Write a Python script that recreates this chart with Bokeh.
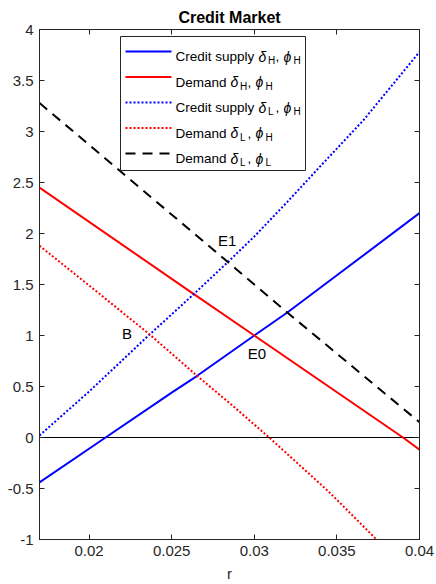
from bokeh.plotting import figure
from bokeh.models import Range1d, FixedTicker, LinearAxis
from bokeh.core.properties import value
from bokeh.embed import file_html
from bokeh.resources import INLINE

# ---------------- data ----------------
x_lim = [0.017, 0.04]
y_lim = [-1, 4]
x_ticks = [0.02, 0.025, 0.03, 0.035, 0.04]
x_tick_labels = ["0.02", "0.025", "0.03", "0.035", "0.04"]
y_ticks = [-1, -0.5, 0, 0.5, 1, 1.5, 2, 2.5, 3, 3.5, 4]
y_tick_labels = ["-1", "-0.5", "0", "0.5", "1", "1.5", "2", "2.5", "3", "3.5", "4"]

# Credit supply delta_H, phi_H (blue solid)
r_supply_HH = [0.017, 0.021, 0.025, 0.0265, 0.030, 0.032, 0.035, 0.040]
supply_HH = [-0.44, 0.0, 0.44, 0.60, 1.0, 1.225, 1.59, 2.20]
# Demand delta_H, phi_H (red solid)
r_demand_HH = [0.017, 0.0263, 0.030, 0.039, 0.040]
demand_HH = [2.45, 1.41, 1.0, 0.0, -0.12]
# Credit supply delta_L, phi_H (blue dotted)
r_supply_LH = [0.017, 0.020, 0.0236, 0.0263, 0.0284, 0.030, 0.032, 0.034, 0.0366, 0.040]
supply_LH = [0.02, 0.45, 1.0, 1.40, 1.72, 1.97, 2.31, 2.66, 3.11, 3.78]
# Demand delta_L, phi_H (red dotted)
r_demand_LH = [0.017, 0.020, 0.0236, 0.0265, 0.0287, 0.0309, 0.0345, 0.0374, 0.040]
demand_LH = [1.88, 1.49, 1.02, 0.61, 0.31, 0.0, -0.53, -1.0, -1.42]
# Demand delta_L, phi_L (black dashed)
r_demand_LL = [0.017, 0.0284, 0.032, 0.040]
demand_LL = [3.28, 1.72, 1.225, 0.15]

zero_line = [0, 0]

point_names = ["E1", "E0", "B"]
point_r = [0.0278, 0.0296, 0.0220]
point_y = [1.93, 0.82, 1.02]

legend_main = ["Credit supply", "Demand", "Credit supply", "Demand", "Demand"]
legend_sub_delta = ["H", "H", "L", "L", "L"]
legend_sub_phi = ["H", "H", "H", "H", "L"]

title_text = "Credit Market"
x_label = "r"

# ---------------- layout / style ----------------
W, H = 436, 584
FL, FT, FW, FH = 39, 29, 380, 510
AX = "#262626"
FONT = "Liberation Sans"

p = figure(width=W, height=H, output_backend="svg", toolbar_location=None,
           x_range=Range1d(*x_lim), y_range=Range1d(*y_lim),
           min_border_left=FL, min_border_top=FT,
           min_border_right=W - FL - FW, min_border_bottom=H - FT - FH,
           background_fill_color="white", border_fill_color="white")
p.grid.visible = False
p.outline_line_color = AX
p.outline_line_width = 1

p.title.text = title_text
p.title.align = "center"
p.title.text_font = FONT
p.title.text_font_size = "16px"
p.title.text_font_style = "bold"
p.title.text_color = "black"
p.title.standoff = 8
p.title.offset = 0


def style_axis(ax, show_labels):
    ax.axis_line_color = AX
    ax.major_tick_in = 5
    ax.major_tick_out = 0
    ax.minor_tick_line_color = None
    ax.major_tick_line_color = AX
    ax.major_label_text_font = FONT
    if show_labels:
        ax.major_label_text_color = AX
        ax.major_label_text_font_size = "15px"
        ax.major_label_standoff = 6
    else:
        ax.major_label_text_color = None
        ax.major_label_text_font_size = "1px"
        ax.major_label_standoff = 0


xb = p.xaxis[0]
xb.ticker = FixedTicker(ticks=x_ticks)
xb.major_label_overrides = dict(zip(x_ticks, x_tick_labels))
style_axis(xb, True)
xb.axis_label = x_label
xb.axis_label_text_font = FONT
xb.axis_label_text_font_size = "15px"
xb.axis_label_text_font_style = "normal"
xb.axis_label_text_color = AX
xb.axis_label_standoff = 6

yl = p.yaxis[0]
yl.ticker = FixedTicker(ticks=y_ticks)
yl.major_label_overrides = dict(zip(y_ticks, y_tick_labels))
style_axis(yl, True)

xt = LinearAxis(ticker=FixedTicker(ticks=x_ticks))
style_axis(xt, False)
p.add_layout(xt, "above")
yr = LinearAxis(ticker=FixedTicker(ticks=y_ticks))
style_axis(yr, False)
p.add_layout(yr, "right")

# zero line
p.line(x=x_lim, y=zero_line, line_color="black", line_width=1)

# curves
p.line(r_supply_HH, supply_HH, line_color="#0000ff", line_width=2)
p.line(r_demand_HH, demand_HH, line_color="#ff0000", line_width=2)
p.line(r_supply_LH, supply_LH, line_color="#0000ff", line_width=2, line_dash="2 2")
p.line(r_demand_LH, demand_LH, line_color="#ff0000", line_width=2, line_dash="2 2")
p.line(r_demand_LL, demand_LL, line_color="black", line_width=2, line_dash="10 7")

# point labels
p.text(x=point_r, y=point_y, text=point_names, text_font=value(FONT),
       text_font_size=value("15px"), text_color="black",
       text_align="left", text_baseline="middle")


# ---------------- hand-built legend (for TeX-like subscripts) ----------------
def sx(px):
    return x_lim[0] + (px - FL) / FW * (x_lim[1] - x_lim[0])


def sy(py):
    return y_lim[1] - (py - FT) / FH * (y_lim[1] - y_lim[0])


p.quad(left=[sx(120)], right=[sx(305)], top=[sy(36)], bottom=[sy(170)],
       fill_color="white", line_color=AX, line_width=1, level="overlay")

styles = [("#0000ff", None), ("#ff0000", None), ("#0000ff", "2 2"),
          ("#ff0000", "2 2"), ("black", "10 7")]
char_w = {"Credit supply": 78, "Demand": 50}
for i, (main, sd, sp) in enumerate(zip(legend_main, legend_sub_delta, legend_sub_phi)):
    ry = 51 + 25.5 * i
    col, dash = styles[i]
    kw = dict(line_color=col, line_width=2, level="overlay")
    if dash:
        kw["line_dash"] = dash
    p.line([sx(125), sx(171)], [sy(ry), sy(ry)], **kw)
    base = ry + 5
    x0 = 175
    xd = x0 + char_w[main] + 5
    common = dict(text_font=value(FONT), text_color="black", text_align="left",
                  text_baseline="alphabetic", level="overlay")
    p.text(x=[sx(x0)], y=[sy(base)], text=[main], text_font_size=value("13.5px"), **common)
    p.text(x=[sx(xd), sx(xd + 25)], y=[sy(base), sy(base)], text=["δ", "ϕ"],
           text_font_size=value("14px"), text_font_style="italic", **common)
    p.text(x=[sx(xd + 9.5), sx(xd + 35)], y=[sy(base + 4), sy(base + 4)], text=[sd, sp],
           text_font_size=value("10px"), **common)
    p.text(x=[sx(xd + 17)], y=[sy(base)], text=[","], text_font_size=value("13.5px"), **common)

open("out.html", "w").write(file_html(p, INLINE))
